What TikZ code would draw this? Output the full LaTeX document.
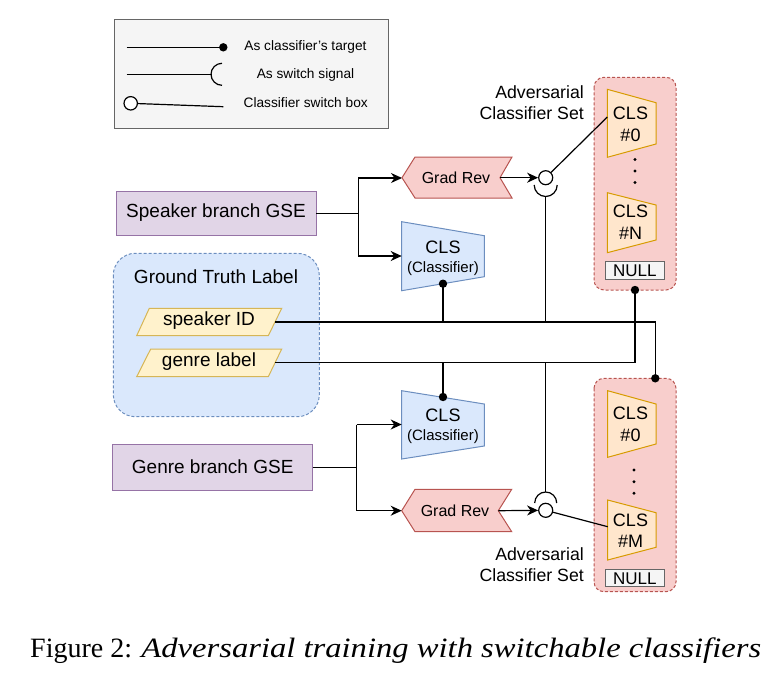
\documentclass[tikz,border=0pt]{standalone}
\usepackage{fontspec}
\usepackage{graphicx}
\setmainfont{Liberation Sans}
\newfontfamily\capfont{Liberation Serif}
\usetikzlibrary{arrows.meta}
\definecolor{purpF}{HTML}{E1D5E7}\definecolor{purpD}{HTML}{9673A6}
\definecolor{redF}{HTML}{F8CECC}\definecolor{redD}{HTML}{B85450}
\definecolor{bluF}{HTML}{DAE8FC}\definecolor{bluD}{HTML}{6C8EBF}
\definecolor{yelF}{HTML}{FFF2CC}\definecolor{yelD}{HTML}{D6B656}
\definecolor{oraF}{HTML}{FFE6CC}\definecolor{oraD}{HTML}{D79B00}
\definecolor{gryF}{HTML}{F5F5F5}\definecolor{gryD}{HTML}{666666}
\begin{document}
\begin{tikzpicture}[x=1pt,y=-1pt,
  conn/.style={line width=1.2pt},
  arr/.style={conn,-{Stealth[length=11pt,width=10pt,inset=3.5pt]}},
  shp/.style={line width=1pt},
  lbl/.style={inner sep=0pt,font=\fontsize{19}{22}\selectfont},
  clsT/.style={inner sep=0pt,font=\fontsize{18}{21}\selectfont},
  subT/.style={inner sep=0pt,font=\fontsize{15}{18}\selectfont},
  grT/.style={inner sep=0pt,font=\fontsize{16}{19}\selectfont},
  legT/.style={inner sep=0pt,font=\fontsize{13.7}{16}\selectfont},
  advT/.style={inner sep=0pt,align=right,anchor=east,font=\fontsize{17.7}{21}\selectfont},
  swc/.style={circle,draw,fill=white,line width=1.2pt,minimum size=14pt,inner sep=0pt},
  adv/.style={shp,draw=redD,fill=redF,dashed,dash pattern=on 3pt off 2pt,rounded corners=10pt},
  orcls/.style={shp,draw=oraD,fill=oraF},
  nullbox/.style={shp,draw=gryD,fill=gryF}
]
\useasboundingbox (0,0) rectangle (779,673);

% ---------- legend ----------
\draw[shp,draw=gryD,fill=gryF] (114,19) rectangle (388.3,128.3);
\coordinate (l1a) at (126.7,47.3); \coordinate (l1b) at (223.3,47.3);
\draw[conn] (l1a) -- (l1b); \fill (l1b) circle[radius=4.2];
\node[legT] (lt1) at (305.5,47) {As classifier's target};
\coordinate (l2a) at (126.7,74.3); \coordinate (l2b) at (211.5,74.3);
\draw[conn] (l2a) -- (l2b);
\draw[conn] (222,63.3) arc[start angle=270,end angle=90,radius=11];
\node[legT] (lt2) at (305.5,75) {As switch signal};
\node[circle,draw,line width=1.2pt,minimum size=13.4pt,inner sep=0pt,fill=white] (l3c) at (130.7,103.3) {};
\coordinate (l3b) at (223.3,106.7);
\draw[conn] (l3c) -- (l3b);
\node[legT] (lt3) at (305.7,102.7) {Classifier switch box};

% ---------- speaker branch ----------
\draw[shp,draw=purpD,fill=purpF] (116,191) rectangle (316,235);
\node[lbl] (spk) at (216,213) {Speaker branch GSE};
\coordinate (spkE) at (316,213.3);
\coordinate (j1) at (358.3,213.3);
\coordinate (j1t) at (358.3,178); \coordinate (j1b) at (358.3,256);

% Grad Rev upper
\draw[shp,draw=redD,fill=redF] (402,177.7) -- (415,157) -- (512,157) -- (500,177.7) -- (512,198) -- (415,198) -- cycle;
\node[grT] (gr1) at (456,177.7) {Grad Rev};
\coordinate (gr1w) at (402,178); \coordinate (gr1e) at (500,177.7);

% CLS upper
\draw[shp,draw=bluD,fill=bluF] (401.7,221.7) -- (484.3,235.7) -- (484.3,276.7) -- (401.7,290.7) -- cycle;
\node[clsT] (cls1) at (443,247) {CLS};
\node[subT] (cls1s) at (443,268.5) {(Classifier)};
\coordinate (cls1w) at (401.7,256); \coordinate (cls1d) at (443,283.7);

\draw[conn] (spkE) -- (j1);
\draw[conn] (j1t) -- (j1b);
\draw[arr] (j1t) -- (gr1w);
\draw[arr] (j1b) -- (cls1w);

% switch upper
\node[swc] (sw1) at (545.7,177.7) {};
\draw[arr] (gr1e) -- (sw1);
\draw[conn] (557.2,185) arc[start angle=0,end angle=180,radius=11.5];
\coordinate (sw1s) at (545.7,196.5);

% adversarial set upper
\draw[adv] (594,77.3) rectangle (676,290);
\draw[orcls] (607.3,89.3) -- (656,102.7) -- (656,144) -- (607.3,157.3) -- cycle;
\node[clsT] (a0) at (630.5,113) {CLS};
\node[clsT] (a0n) at (630.5,135) {\#0};
\fill (635,159.5) circle[radius=1.6] (635,171) circle[radius=1.6] (635,182.5) circle[radius=1.6];
\draw[orcls] (607.3,192.7) -- (656,205) -- (656,240) -- (607.3,252.7) -- cycle;
\node[clsT] (aN) at (630.5,211.7) {CLS};
\node[clsT] (aNn) at (630.5,233) {\#N};
\draw[nullbox] (605.7,261) rectangle (664,279);
\node[inner sep=0pt,font=\fontsize{17}{20}\selectfont] (nul1) at (634.8,270.3) {NULL};
\coordinate (a0w) at (607.3,117);
\draw[conn] (sw1) -- (a0w);
\node[advT] (adv1) at (584,102.2) {Adversarial\\Classifier Set};
\coordinate (set1b) at (635,290);

% ---------- ground truth ----------
\draw[shp,draw=bluD,fill=bluF,dashed,dash pattern=on 3pt off 2pt,rounded corners=22pt] (113.3,253.3) rectangle (319.3,416.7);
\node[lbl] (gtl) at (216,277) {Ground Truth Label};
\draw[shp,draw=yelD,fill=yelF] (136.7,335.7) -- (149.3,308.3) -- (281.7,308.3) -- (268.3,335.7) -- cycle;
\node[lbl] (sid) at (209,321) {speaker ID};
\draw[shp,draw=yelD,fill=yelF] (136.7,376.7) -- (150.7,349) -- (281.7,349) -- (268.3,376.7) -- cycle;
\node[lbl] (glb) at (209,362) {genre label};
\coordinate (sidE) at (275,322); \coordinate (glbE) at (275,362.7);

% ---------- genre branch ----------
\draw[shp,draw=purpD,fill=purpF] (112.7,444.3) rectangle (312.7,490);
\node[lbl] (gen) at (212.7,467) {Genre branch GSE};
\coordinate (genE) at (312.7,467.7);
\coordinate (j2) at (356.7,467.7);
\coordinate (j2t) at (356.7,424.5); \coordinate (j2b) at (356.7,510.7);

\draw[shp,draw=bluD,fill=bluF] (401.7,390.7) -- (484.3,404) -- (484.3,446) -- (401.7,459) -- cycle;
\node[clsT] (cls2) at (443,415) {CLS};
\node[subT] (cls2s) at (443,436.5) {(Classifier)};
\coordinate (cls2w) at (401.7,424.5); \coordinate (cls2d) at (443,397);

\draw[shp,draw=redD,fill=redF] (401.7,510.7) -- (415,489.3) -- (511.7,489.3) -- (498.3,510.7) -- (511.7,531.7) -- (415,531.7) -- cycle;
\node[grT] (gr2) at (455,510.7) {Grad Rev};
\coordinate (gr2w) at (401.7,510.7); \coordinate (gr2e) at (498.3,510.7);

\draw[conn] (genE) -- (j2);
\draw[conn] (j2t) -- (j2b);
\draw[arr] (j2t) -- (cls2w);
\draw[arr] (j2b) -- (gr2w);

\node[swc] (sw2) at (545.7,510.3) {};
\draw[arr] (gr2e) -- (sw2);
\draw[conn] (534.7,503) arc[start angle=180,end angle=360,radius=11];
\coordinate (sw2s) at (545.7,492);

\draw[adv] (594,378.3) rectangle (676,591.7);
\draw[orcls] (607.7,390.7) -- (656,404) -- (656,444) -- (607.7,457.3) -- cycle;
\node[clsT] (b0) at (630.5,413.3) {CLS};
\node[clsT] (b0n) at (630.5,435) {\#0};
\fill (634,470) circle[radius=1.6] (634,481.7) circle[radius=1.6] (634,493.3) circle[radius=1.6];
\draw[orcls] (607.7,500) -- (656,512.7) -- (656,547.3) -- (607.7,560) -- cycle;
\node[clsT] (bM) at (630.5,520) {CLS};
\node[clsT] (bMn) at (630.5,541.7) {\#M};
\draw[nullbox] (605.7,569.3) rectangle (664,586.7);
\node[inner sep=0pt,font=\fontsize{17}{20}\selectfont] (nul2) at (634.8,578.3) {NULL};
\coordinate (bMw) at (607.7,526.7);
\draw[conn] (sw2) -- (bMw);
\node[advT] (adv2) at (584,565) {Adversarial\\Classifier Set};
\coordinate (set2t) at (655.3,378.3);

% ---------- label wiring ----------
\coordinate (sidR) at (655.3,322);
\coordinate (glbR) at (635,362.7);
\draw[conn] (sidE) -- (sidR) -- (set2t);
\draw[conn] (glbE) -- (glbR) -- (set1b);
\fill (set1b) circle[radius=4.2];
\fill (set2t) circle[radius=4.2];
\coordinate (c1x) at (443,322);
\draw[conn] (cls1d) -- (c1x);
\fill (cls1d) circle[radius=4.2];
\coordinate (c2x) at (443,362.7);
\draw[conn] (c2x) -- (cls2d);
\fill (cls2d) circle[radius=4.2];
\coordinate (s1x) at (545.7,322);
\draw[conn] (sw1s) -- (s1x);
\coordinate (s2x) at (545.7,362.7);
\draw[conn] (s2x) -- (sw2s);

% ---------- caption ----------
\node[anchor=base west,inner sep=0pt,font=\capfont\fontsize{28}{32}\selectfont] (cap) at (30,657) {Figure 2: \scalebox{1.165}[1]{\textit{Adversarial training with switchable classifiers}}};
\end{tikzpicture}
\end{document}
